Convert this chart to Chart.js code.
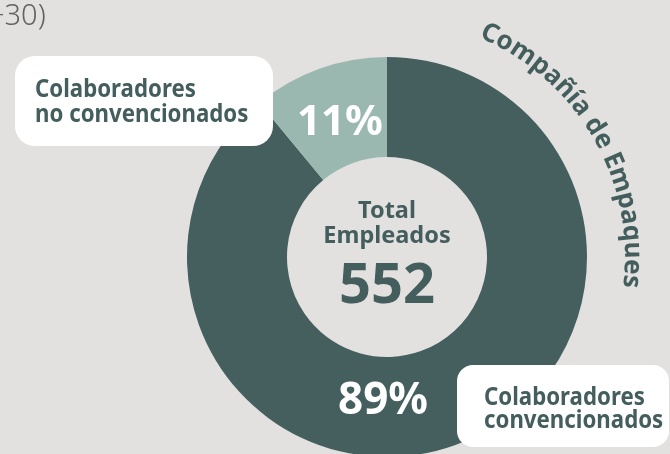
<!DOCTYPE html>
<html>
<head>
<meta charset="utf-8">
<script src="https://cdn.jsdelivr.net/npm/chart.js@4.4.1/dist/chart.umd.min.js"></script>
<style>
  html, body { margin: 0; padding: 0; background: #e2e1df; overflow: hidden; }
  #wrap { position: relative; width: 670px; height: 454px; overflow: hidden; }
  #empChart { position: absolute; left: 0; top: 0; }
</style>
</head>
<body>
<div id="wrap"><canvas id="empChart" width="670" height="470"></canvas></div>
<script>
const categories = ['Colaboradores convencionados', 'Colaboradores no convencionados'];
const percentages = [89, 11];
const totalEmployees = 552;
const companyName = 'Compañía de Empaques';
const segmentColors = ['#445f5e', '#9bb8b0'];

const dark = '#445e5d';
const font = '"Noto Sans", sans-serif';

function roundBox(ctx, x, y, w, h, r) {
    ctx.beginPath();
    ctx.moveTo(x + r, y);
    ctx.arcTo(x + w, y, x + w, y + h, r);
    ctx.arcTo(x + w, y + h, x, y + h, r);
    ctx.arcTo(x, y + h, x, y, r);
    ctx.arcTo(x, y, x + w, y, r);
    ctx.closePath();
    ctx.fill();
}

function splitLabel(label) {
    // "Colaboradores" on the first line, the rest below
    const i = label.indexOf(' ');
    return [label.slice(0, i), label.slice(i + 1)];
}

// the original font is a bit narrower than Noto Sans
function narrowText(ctx, text, x, y) {
    ctx.save();
    ctx.translate(x, y);
    ctx.scale(0.89, 1);
    ctx.fillText(text, 0, 0);
    ctx.restore();
}

const labelsPlugin = {
    id: 'labels',
    afterDraw(chart) {
        const ctx = chart.ctx;
        const arc = chart.getDatasetMeta(0).data[0];
        const cx = arc.x, cy = arc.y, R = arc.outerRadius;
        ctx.save();

        // cropped heading at top left
        ctx.fillStyle = '#626262';
        ctx.font = '300 29px ' + font;
        ctx.textAlign = 'left';
        ctx.textBaseline = 'alphabetic';
        ctx.fillText('+30)', -12, 25);

        // label boxes
        ctx.fillStyle = '#ffffff';
        roundBox(ctx, 15, 56, 258, 90, 20);
        roundBox(ctx, 457, 365, 212, 82, 16);

        ctx.fillStyle = dark;
        ctx.font = 'bold 25px ' + font;
        const l1 = splitLabel(categories[1]);
        narrowText(ctx, l1[0], 35, 97);
        narrowText(ctx, l1[1], 35, 122);
        const l0 = splitLabel(categories[0]);
        narrowText(ctx, l0[0], 484, 405);
        narrowText(ctx, l0[1], 484, 428);

        // centre
        ctx.textAlign = 'center';
        ctx.font = 'bold 23.5px ' + font;
        ctx.fillText('Total', cx, 218);
        ctx.fillText('Empleados', cx, 243);
        ctx.font = 'bold 56px ' + font;
        ctx.fillText(String(totalEmployees), cx, 303);

        // percentages
        ctx.fillStyle = '#ffffff';
        ctx.font = 'bold 44px ' + font;
        ctx.fillText(percentages[0] + '%', 383, 414);
        ctx.font = 'bold 42px ' + font;
        ctx.fillText(percentages[1] + '%', 340, 135);

        // curved company name
        ctx.fillStyle = dark;
        ctx.font = 'bold 26px ' + font;
        const r = R + 38;
        const total = ctx.measureText(companyName).width;
        const mid = 60 * Math.PI / 180;
        let a = mid - total / r / 2;
        for (const ch of companyName) {
            const w = ctx.measureText(ch).width;
            const ac = a + w / r / 2;
            const th = ac - Math.PI / 2;
            ctx.save();
            ctx.translate(cx + r * Math.cos(th), cy + r * Math.sin(th));
            ctx.rotate(ac);
            ctx.fillText(ch, 0, 0);
            ctx.restore();
            a += w / r;
        }
        ctx.restore();
    }
};

new Chart(document.getElementById('empChart'), {
    type: 'doughnut',
    data: {
        labels: categories,
        datasets: [{
            data: percentages,
            backgroundColor: segmentColors,
            borderWidth: 0
        }]
    },
    options: {
        responsive: false,
        animation: false,
        cutout: '50%',
        layout: { padding: { left: 187, right: 83, top: 57, bottom: 13 } },
        plugins: {
            legend: { display: false },
            tooltip: { enabled: false }
        }
    },
    plugins: [labelsPlugin]
});
</script>
</body>
</html>
